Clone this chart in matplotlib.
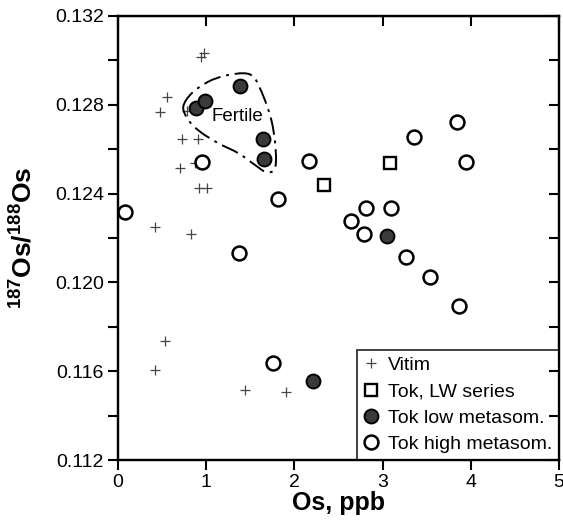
import numpy as np
import matplotlib
matplotlib.use("Agg")
import matplotlib.pyplot as plt
from matplotlib.path import Path
from matplotlib.patches import PathPatch

plt.rcParams['font.family'] = ['Liberation Sans', 'DejaVu Sans']
plt.rcParams['mathtext.fontset'] = 'custom'
plt.rcParams['mathtext.rm'] = 'Liberation Sans'
plt.rcParams['mathtext.bf'] = 'Liberation Sans:bold'

# ---- data ----
vitim_x = [0.94, 0.975, 0.556, 0.48, 0.78, 0.726, 0.91, 0.706, 0.873, 0.915, 1.01,
           0.423, 0.828, 0.529, 0.423, 1.436, 1.91]
vitim_y = [0.13015, 0.13033, 0.12835, 0.12766, 0.1277, 0.12646, 0.12646, 0.12517, 0.12537,
           0.12424, 0.12424, 0.12248, 0.12217, 0.11736, 0.11607, 0.11517, 0.11508]

lw_x = [2.34, 3.08]
lw_y = [0.12439, 0.12539]

low_x = [0.884, 0.99, 1.387, 1.644, 1.659, 3.046, 2.215]
low_y = [0.12787, 0.12817, 0.12885, 0.12645, 0.12557, 0.12208, 0.11557]

high_x = [0.952, 0.079, 1.81, 1.37, 2.166, 3.36, 3.84, 3.946, 2.815, 3.09, 2.64,
          2.79, 3.265, 3.54, 3.87, 1.76]
high_y = [0.12544, 0.12316, 0.12374, 0.12134, 0.12546, 0.12656, 0.12724, 0.12544,
          0.12335, 0.12335, 0.12277, 0.12217, 0.12116, 0.12026, 0.11895, 0.11635]

# outline of the "Fertile" field
fert_x = [0.740, 0.836, 1.024, 1.213, 1.421, 1.534, 1.610, 1.686, 1.743, 1.780, 1.791,
          1.761, 1.667, 1.553, 1.364, 1.137, 0.930, 0.797]
fert_y = [0.12791, 0.12852, 0.12904, 0.12931, 0.12942, 0.12927, 0.12874, 0.12799,
          0.12724, 0.12634, 0.12544, 0.12502, 0.12499, 0.12529, 0.12582, 0.12627,
          0.12679, 0.12732]

xticks = [0, 1, 2, 3, 4, 5]
yticks = [0.112, 0.114, 0.116, 0.118, 0.120, 0.122, 0.124, 0.126, 0.128, 0.130, 0.132]
ytick_labels = ['0.112', '', '0.116', '', '0.120', '', '0.124', '', '0.128', '', '0.132']

# ---- figure ----
fig = plt.figure(figsize=(5.63, 5.24), dpi=100)
ax = fig.add_axes([0.2096, 0.1221, 0.7833, 0.8474])

ax.plot(vitim_x, vitim_y, ls='none', marker='+', ms=7, mew=0.9, color='#444444',
        label='Vitim', zorder=3)
ax.plot(lw_x, lw_y, ls='none', marker='s', ms=9, mew=1.7, mfc='white', mec='black',
        label='Tok, LW series', zorder=4)
ax.plot(low_x, low_y, ls='none', marker='o', ms=10, mew=1.4, mfc='#3a3a3a', mec='black',
        label='Tok low metasom.', zorder=5)
ax.plot(high_x, high_y, ls='none', marker='o', ms=10, mew=1.8, mfc='white', mec='black',
        label='Tok high metasom.', zorder=4)

# smooth closed outline (Catmull-Rom -> cubic Bezier)
P = np.column_stack([fert_x, fert_y])
n = len(P)
verts = [P[0]]
codes = [Path.MOVETO]
for i in range(n):
    p0, p1, p2, p3 = P[i - 1], P[i], P[(i + 1) % n], P[(i + 2) % n]
    c1 = p1 + (p2 - p0) / 6.0
    c2 = p2 - (p3 - p1) / 6.0
    verts += [c1, c2, p2]
    codes += [Path.CURVE4] * 3
patch = PathPatch(Path(verts, codes), fill=False, ec='black', lw=1.4,
                  ls=(0, (9, 3, 1.5, 3)), zorder=6)
ax.add_patch(patch)
ax.text(1.355, 0.12746, 'Fertile', fontsize=13.5, ha='center', va='center', zorder=7)

ax.set_xlim(0, 5)
ax.set_ylim(0.112, 0.132)
ax.set_xticks(xticks)
ax.set_xticklabels([str(t) for t in xticks])
ax.set_yticks(yticks)
ax.set_yticklabels(ytick_labels)
ax.tick_params(direction='out', length=7, width=1.5, labelsize=14, pad=3,
               colors='black')
for s in ax.spines.values():
    s.set_linewidth(1.6)

top = ax.secondary_xaxis('top')
top.set_xticks(xticks)
top.tick_params(direction='in', length=7, width=1.5, labeltop=False)

# right-hand inward ticks drawn on a twin axes so they sit above the legend
rax = ax.twinx()
rax.set_ylim(ax.get_ylim())
rax.set_yticks(yticks)
rax.tick_params(axis='y', direction='in', length=7, width=1.5, labelright=False)
for s in rax.spines.values():
    s.set_linewidth(1.6)

ax.set_xlabel('Os, ppb', fontsize=18, fontweight='bold', labelpad=0)
ax.set_ylabel(r'$\mathbf{^{187}Os/^{188}Os}$', fontsize=19, labelpad=13)

leg = ax.legend(loc='lower right', fontsize=14, frameon=True, fancybox=False,
                borderaxespad=0, handlelength=0.8, handletextpad=0.45,
                borderpad=0.35, labelspacing=0.45, edgecolor='black')
leg.get_frame().set_linewidth(1.3)
leg.set_zorder(10)

fig.savefig('out.png', dpi=100)
